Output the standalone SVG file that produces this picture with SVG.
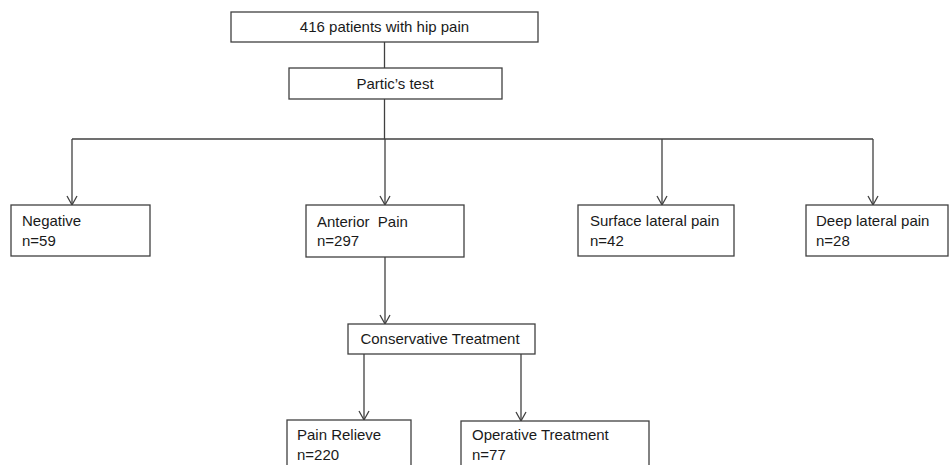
<svg xmlns="http://www.w3.org/2000/svg" width="951" height="465" viewBox="0 0 951 465">
<style>
.box{fill:#fff;stroke:#404040;stroke-width:1.3}
.t{font-family:"Liberation Sans",Arial,sans-serif;font-size:15px;fill:#1a1a1a}
.c{text-anchor:middle}
.ln{fill:none;stroke:#404040;stroke-width:1.3}
</style>
<defs>
<marker id="arr" markerWidth="12" markerHeight="12" refX="10" refY="6" orient="auto" markerUnits="userSpaceOnUse">
<path d="M1,1 L10,6 L1,11" fill="none" stroke="#404040" stroke-width="1.3"/>
</marker>
</defs>
<rect width="951" height="465" fill="#fff"/>
<g id="connectors">
<line class="ln" x1="384.5" y1="42" x2="384.5" y2="68"/>
<line class="ln" x1="384.5" y1="99" x2="384.5" y2="139"/>
<line class="ln" x1="72" y1="139" x2="873" y2="139"/>
<line class="ln" x1="72" y1="139" x2="72" y2="205" marker-end="url(#arr)"/>
<line class="ln" x1="385" y1="139" x2="385" y2="205" marker-end="url(#arr)"/>
<line class="ln" x1="662" y1="139" x2="662" y2="205" marker-end="url(#arr)"/>
<line class="ln" x1="873" y1="139" x2="873" y2="205" marker-end="url(#arr)"/>
<line class="ln" x1="385" y1="257" x2="385" y2="324" marker-end="url(#arr)"/>
<line class="ln" x1="364" y1="354" x2="364" y2="420" marker-end="url(#arr)"/>
<line class="ln" x1="521" y1="354" x2="521" y2="421" marker-end="url(#arr)"/>
</g>
<g id="n416">
<rect class="box" x="231" y="12" width="307" height="30"/>
<text class="t c" x="384.5" y="32">416 patients with hip pain</text>
</g>
<g id="partic">
<rect class="box" x="289" y="68" width="213" height="31"/>
<text class="t c" x="395" y="89">Partic’s test</text>
</g>
<g id="negative">
<rect class="box" x="11" y="205" width="139" height="51"/>
<text class="t" x="22" y="226">Negative</text>
<text class="t" x="22" y="246">n=59</text>
</g>
<g id="anterior">
<rect class="box" x="306" y="205" width="158" height="52"/>
<text class="t" x="317" y="227" xml:space="preserve">Anterior  Pain</text>
<text class="t" x="317" y="246">n=297</text>
</g>
<g id="surface">
<rect class="box" x="578" y="205" width="156" height="51"/>
<text class="t" x="590" y="226">Surface lateral pain</text>
<text class="t" x="590" y="246">n=42</text>
</g>
<g id="deep">
<rect class="box" x="806" y="205" width="142" height="51"/>
<text class="t" x="816" y="226">Deep lateral pain</text>
<text class="t" x="816" y="246">n=28</text>
</g>
<g id="conservative">
<rect class="box" x="348" y="324" width="187" height="30"/>
<text class="t c" x="440" y="344">Conservative Treatment</text>
</g>
<g id="relieve">
<rect class="box" x="287" y="420" width="124" height="60"/>
<text class="t" x="297" y="440">Pain Relieve</text>
<text class="t" x="297" y="460">n=220</text>
</g>
<g id="operative">
<rect class="box" x="461" y="421" width="188" height="60"/>
<text class="t" x="472" y="440">Operative Treatment</text>
<text class="t" x="472" y="460">n=77</text>
</g>
</svg>
